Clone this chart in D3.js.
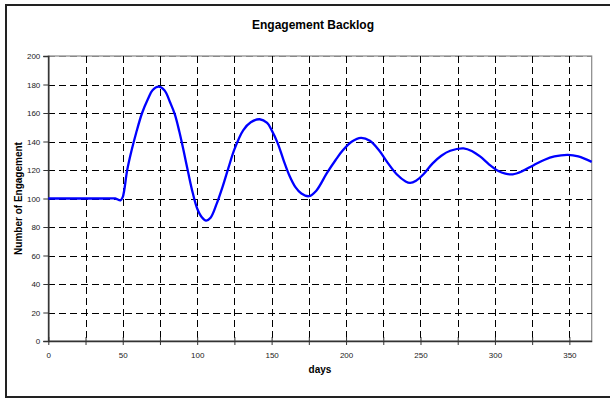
<!DOCTYPE html>
<html>
<head>
<meta charset="utf-8">
<script src="https://cdn.jsdelivr.net/npm/d3@7"></script>
<style>
  html, body { margin: 0; padding: 0; background: #fff; }
  svg { display: block; font-family: "Liberation Sans", Arial, sans-serif; }
</style>
</head>
<body>
<svg id="chart" width="610" height="398"></svg>
<script>
// Engagement backlog over the year (days vs. number of engagements)
const days = [0, 10, 20, 30, 40, 45, 48.5, 50, 53, 56, 59, 63, 67, 70, 74, 78, 82, 85, 88, 91, 94, 97, 100, 103, 106, 109, 113, 117, 121, 125, 131, 136, 142, 147, 150, 154, 158, 162, 166, 170, 175, 180, 187, 193, 198, 204, 210, 216, 222, 228, 234, 240, 243, 247, 252, 258, 264, 270, 279, 285, 290, 296, 302, 307, 312, 318, 326, 333, 340, 349, 356, 365];
const backlog = [100, 100, 100, 100, 100, 100, 98.7, 101, 120, 134, 146, 160, 170, 176, 178.5, 176, 167, 159, 147, 133, 118, 104, 93, 87, 84.5, 86.5, 96, 108, 121.5, 134.5, 148, 153.5, 155.6, 153, 148, 139, 127, 116, 108, 103.5, 101.6, 105.5, 117.6, 127, 134, 140, 142.5, 140.5, 134, 125, 117, 112, 111, 112.5, 117, 124.5, 130, 133.5, 135.2, 133, 129.5, 124, 119.5, 117.5, 117, 119, 123.4, 127, 129.5, 130.6, 129.5, 125.7];

const xTicks = [0, 25, 50, 75, 100, 125, 150, 175, 200, 225, 250, 275, 300, 325, 350];
const xLabels = [0, 50, 100, 150, 200, 250, 300, 350];
const yTicks = [0, 20, 40, 60, 80, 100, 120, 140, 160, 180, 200];

const svg = d3.select("#chart");

const x = d3.scaleLinear().domain([0, 365]).range([48.3, 591.7]);
const y = d3.scaleLinear().domain([0, 200]).range([341, 56]);

// chart frame
svg.append("rect")
  .attr("x", 6).attr("y", 5).attr("width", 610).attr("height", 392)
  .attr("fill", "#fff").attr("stroke", "#222").attr("stroke-width", 2);

// title
svg.append("text")
  .attr("x", 313).attr("y", 28.5)
  .attr("text-anchor", "middle")
  .attr("font-size", 12).attr("font-weight", "bold")
  .text("Engagement Backlog");

// plot area border (top/right in gray)
svg.append("rect")
  .attr("x", x(0)).attr("y", y(200))
  .attr("width", x(365) - x(0)).attr("height", y(0) - y(200))
  .attr("fill", "none").attr("stroke", "#888").attr("stroke-width", 1.2);

// dashed grid
const grid = svg.append("g").attr("stroke", "#000").attr("stroke-width", 1)
  .attr("stroke-dasharray", "7,4").attr("shape-rendering", "crispEdges");
grid.selectAll("line.h").data(yTicks.filter(v => v > 0)).join("line")
  .attr("class", "h")
  .attr("x1", x(0)).attr("x2", x(365))
  .attr("y1", d => Math.round(y(d)) + 0.5).attr("y2", d => Math.round(y(d)) + 0.5)
  .attr("stroke", d => d === 200 ? "#888" : "#000");
grid.selectAll("line.v").data(xTicks.filter(v => v > 0)).join("line")
  .attr("class", "v")
  .attr("y1", y(200)).attr("y2", y(0))
  .attr("x1", d => Math.round(x(d)) + 0.5).attr("x2", d => Math.round(x(d)) + 0.5);

// y axis
const yAxis = d3.axisLeft(y).tickValues(yTicks).tickSize(5).tickPadding(3);
const gy = svg.append("g").attr("transform", `translate(${x(0)},0)`).call(yAxis);
gy.select(".domain").attr("stroke", "#333").attr("stroke-width", 1.5);
gy.selectAll(".tick line").attr("stroke", "#333");
gy.selectAll(".tick text").attr("font-size", 8).attr("fill", "#222")
  .attr("font-family", "Liberation Sans, Arial, sans-serif");

// x axis: crossing ticks every 25, labels every 50
const xAxis = d3.axisBottom(x).tickValues(xTicks).tickSizeInner(4).tickSizeOuter(0)
  .tickPadding(7).tickFormat(d => xLabels.includes(d) ? d : "");
const gx = svg.append("g").attr("transform", `translate(0,${y(0)})`).call(xAxis);
gx.select(".domain").attr("stroke", "#333").attr("stroke-width", 1.5);
gx.selectAll(".tick line").attr("y1", -4).attr("stroke", "#333");
gx.selectAll(".tick text").attr("font-size", 8).attr("fill", "#222")
  .attr("font-family", "Liberation Sans, Arial, sans-serif");

// axis titles
svg.append("text")
  .attr("x", 320).attr("y", 373)
  .attr("text-anchor", "middle")
  .attr("font-size", 10).attr("font-weight", "bold")
  .text("days");
svg.append("text")
  .attr("transform", `translate(22,${(y(0) + y(200)) / 2}) rotate(-90)`)
  .attr("text-anchor", "middle")
  .attr("font-size", 10).attr("font-weight", "bold")
  .text("Number of Engagement");

// backlog curve
const line = d3.line()
  .x((d, i) => x(days[i]))
  .y(d => y(d))
  .curve(d3.curveCatmullRom.alpha(0.5));
svg.append("path")
  .datum(backlog)
  .attr("d", line)
  .attr("fill", "none")
  .attr("stroke", "#0000ff")
  .attr("stroke-width", 2.3)
  .attr("stroke-linejoin", "round");
</script>
</body>
</html>
